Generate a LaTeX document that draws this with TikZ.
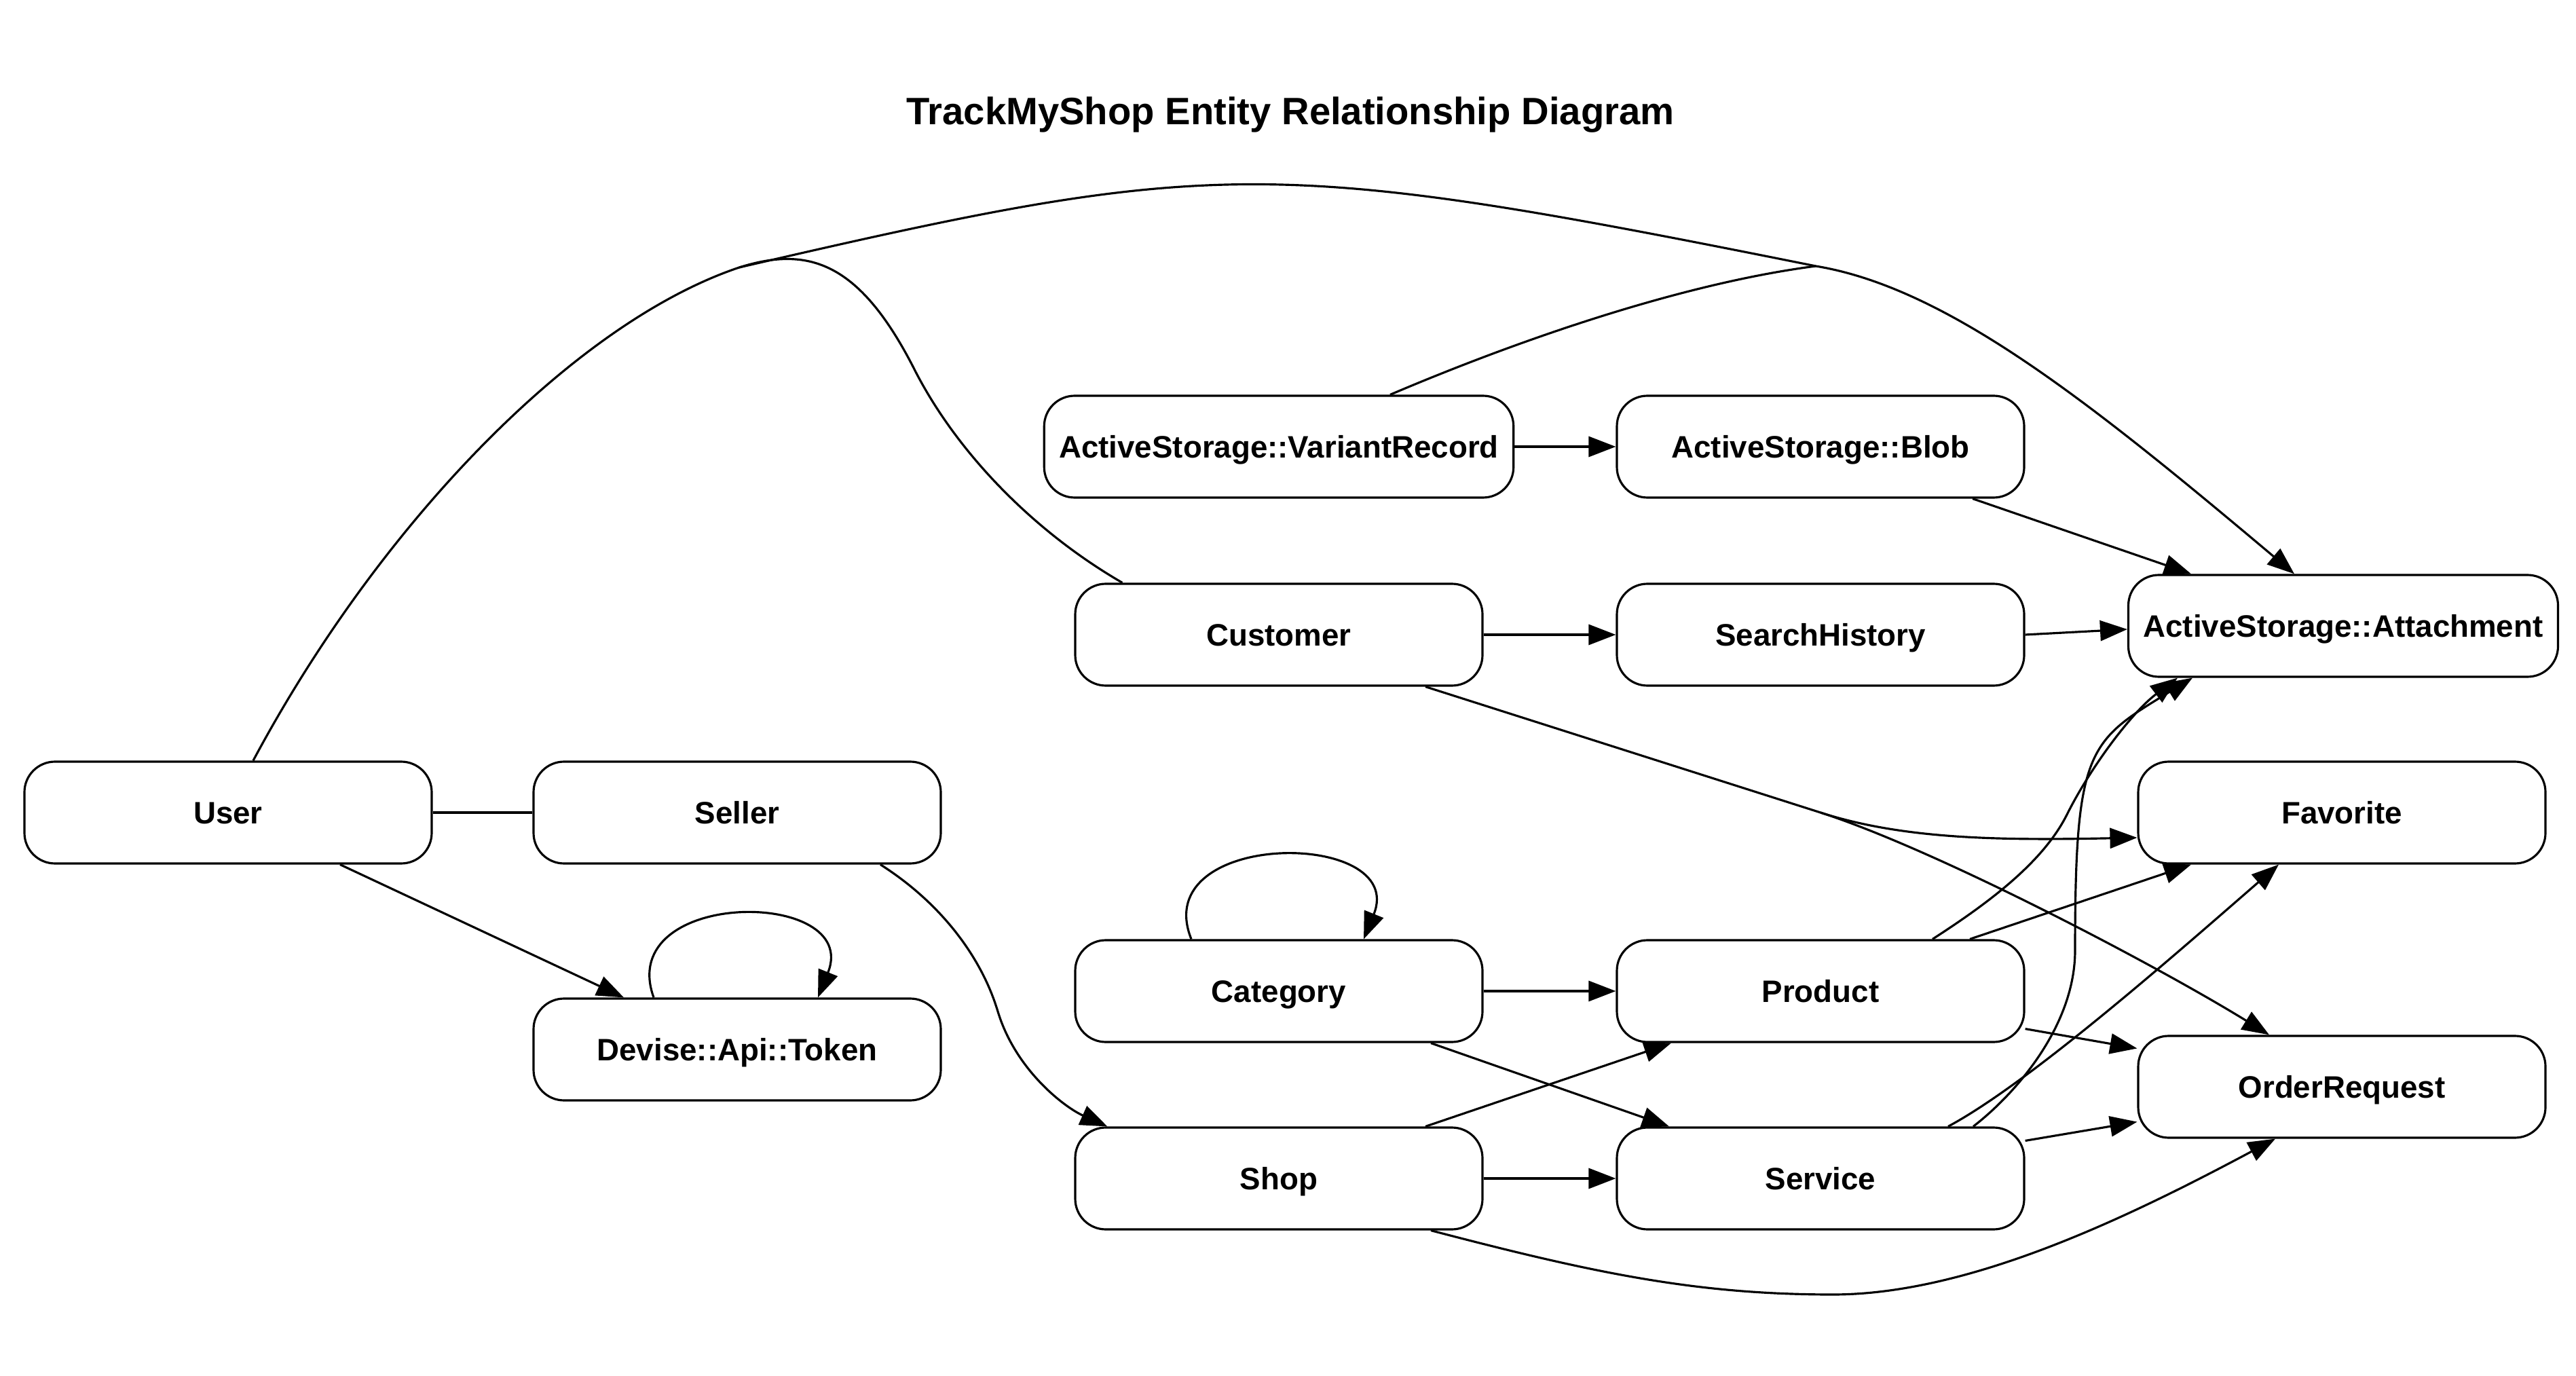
\documentclass[tikz,border=0pt]{standalone}
\usepackage{fontspec}
\setmainfont{Liberation Sans}
\usepackage{tikz}
\usetikzlibrary{arrows.meta}

\begin{document}
\begin{tikzpicture}[
        ent/.style={draw, line width=0.9pt, rounded corners=0.45cm, minimum width=6cm, minimum height=1.5cm, inner xsep=0.22cm, font=\fontsize{13pt}{15pt}\selectfont\bfseries, text height=0.33cm, text depth=0cm},
        rel/.style={line width=0.9pt},
        arr/.style={rel, -{Triangle[length=0.4cm, width=0.3cm]}}
    ]
        \useasboundingbox (0,0) rectangle (37.95,-20.27);
        \node[font=\fontsize{16pt}{19pt}\selectfont\bfseries, anchor=base] (title) at (19.01,-1.84) {TrackMyShop Entity Relationship Diagram};

        \node[ent] (user) at (3.36,-11.97) {User};
        \node[ent] (seller) at (10.86,-11.97) {Seller};
        \node[ent] (token) at (10.86,-15.46) {Devise::Api::Token};
        \node[ent] (var) at (18.84,-6.58) {ActiveStorage::VariantRecord};
        \node[ent] (blob) at (26.82,-6.58) {ActiveStorage::Blob};
        \node[ent] (cus) at (18.84,-9.35) {Customer};
        \node[ent] (sea) at (26.82,-9.35) {SearchHistory};
        \node[ent] (att) at (34.52,-9.22) {ActiveStorage::Attachment};
        \node[ent] (fav) at (34.50,-11.97) {Favorite};
        \node[ent] (cat) at (18.84,-14.60) {Category};
        \node[ent] (pro) at (26.82,-14.60) {Product};
        \node[ent] (ord) at (34.50,-16.01) {OrderRequest};
        \node[ent] (shop) at (18.84,-17.36) {Shop};
        \node[ent] (ser) at (26.82,-17.36) {Service};

        \coordinate (j1) at (10.89,-3.94);
        \coordinate (j2) at (26.75,-3.92);
        \coordinate (j3) at (26.82,-11.97);

        \draw[arr] ([xshift=0.37cm]user.north) .. controls (5.61,-7.69) and (8.48,-4.75) .. (j1) .. controls (17.92,-2.31) and (18.73,-2.31) .. (j2) .. controls (28.69,-4.24) and (30.80,-5.93) .. ([xshift=-0.72cm]att.north);
        \draw[rel] ([xshift=0.71cm]cus.north west) .. controls (15.23,-7.83) and (14.08,-6.66) .. (13.45,-5.40) .. controls (12.65,-3.85) and (11.90,-3.62) .. (j1);
        \draw[rel] ([xshift=1.64cm]var.north) .. controls (22.32,-5.03) and (24.75,-4.18) .. (j2);
        \draw[arr] (var.east) -- (blob.west);
        \draw[arr] ([xshift=2.24cm]blob.south) -- ([xshift=-2.24cm]att.north);
        \draw[arr] (cus.east) -- (sea.west);
        \draw[arr] (sea.east) -- ([yshift=-0.05cm]att.west);
        \draw[rel] ([xshift=2.16cm]cus.south) -- (j3);
        \draw[arr] (j3) .. controls (28.06,-12.37) and (29.50,-12.38) .. ([yshift=-0.37cm]fav.west);
        \draw[arr] (j3) .. controls (28.53,-12.52) and (31.75,-14.21) .. ([xshift=-1.07cm]ord.north);

        \draw[rel] (user.east) -- (seller.west);
        \draw[arr] ([xshift=1.65cm]user.south) -- ([xshift=-1.67cm]token.north);
        \draw[arr] ([xshift=-1.23cm]token.north) .. controls (9.05,-13.08) and (12.70,-13.08) .. ([xshift=1.19cm]token.north);
        \draw[arr] ([xshift=2.11cm]seller.south) .. controls (13.89,-13.32) and (14.47,-14.13) .. (14.70,-14.90) .. controls (14.96,-15.76) and (15.68,-16.31) .. ([xshift=0.49cm]shop.north west);

        \draw[arr] ([xshift=-1.29cm]cat.north) .. controls (16.90,-12.21) and (20.75,-12.21) .. ([xshift=1.25cm]cat.north);
        \draw[arr] (cat.east) -- (pro.west);
        \draw[arr] ([xshift=2.24cm]cat.south) -- ([xshift=-2.23cm]ser.north);
        \draw[arr] ([xshift=2.16cm]shop.north) -- ([xshift=-2.20cm]pro.south);
        \draw[arr] (shop.east) -- (ser.west);
        \draw[arr] ([xshift=2.24cm]shop.south) .. controls (23.50,-18.76) and (25.00,-19.07) .. (27.00,-19.07) .. controls (29.00,-19.07) and (31.32,-17.95) .. ([xshift=-0.98cm]ord.south);

        \draw[arr] ([xshift=1.65cm]pro.north) .. controls (29.30,-13.30) and (30.10,-12.70) .. (30.45,-12.00) .. controls (30.80,-11.30) and (31.40,-10.50) .. ([xshift=-2.44cm]att.south);
        \draw[arr] ([xshift=2.20cm]pro.north) -- ([xshift=-2.22cm]fav.south);
        \draw[arr] ([yshift=0.21cm]pro.south east) -- ([yshift=-0.20cm]ord.north west);
        \draw[arr] ([xshift=2.25cm]ser.north) .. controls (29.71,-16.10) and (30.57,-15.10) .. (30.57,-14.00) .. controls (30.57,-11.00) and (30.77,-10.92) .. ([xshift=-2.22cm]att.south);
        \draw[arr] ([xshift=1.88cm]ser.north) .. controls (29.90,-15.95) and (32.00,-14.10) .. ([xshift=-0.93cm]fav.south);
        \draw[arr] ([yshift=-0.21cm]ser.north east) -- ([yshift=0.25cm]ord.south west);
\end{tikzpicture}
\end{document}
